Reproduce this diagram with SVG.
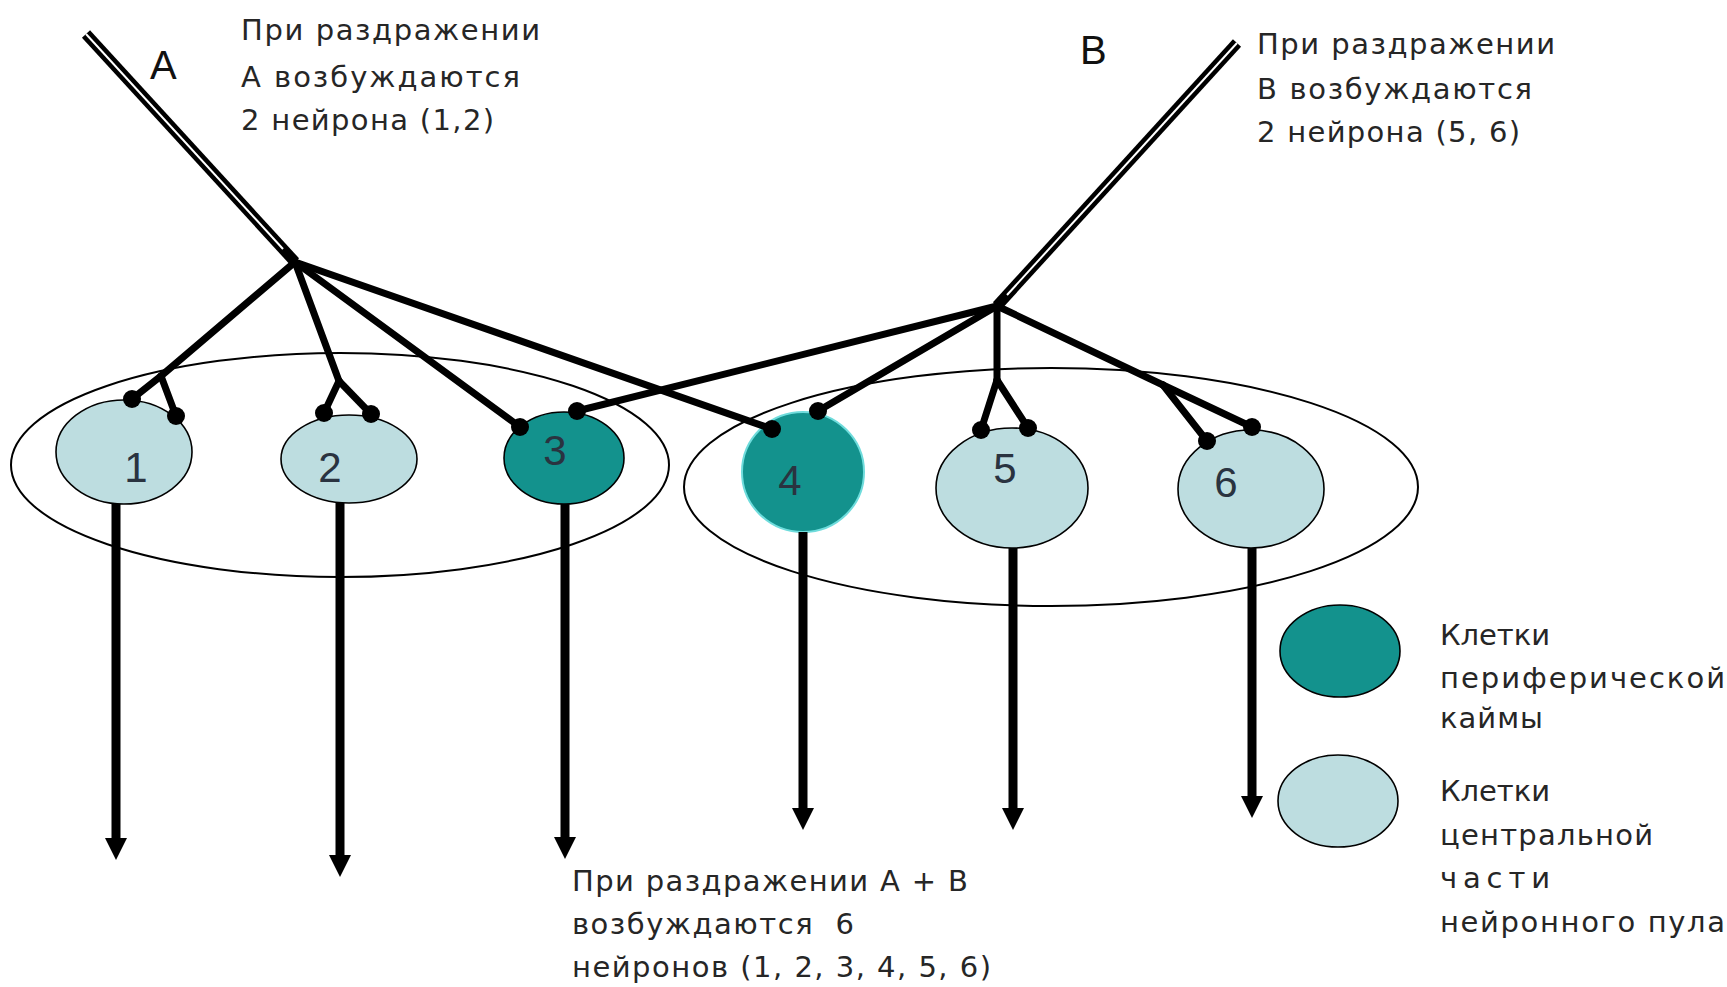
<svg xmlns="http://www.w3.org/2000/svg" width="1727" height="987" viewBox="0 0 1727 987">
  <defs>
    <!-- arrowhead at the end of each efferent axon -->
    <marker id="arrow" viewBox="0 0 22 22" refX="5" refY="11" markerWidth="22" markerHeight="22" markerUnits="userSpaceOnUse" orient="auto">
      <path d="M0,0 L22,11 L0,22 Z" fill="#000"/>
    </marker>
    <!-- synaptic terminal (round ending) -->
    <marker id="syn" viewBox="-10 -10 20 20" refX="0" refY="0" markerWidth="20" markerHeight="20" markerUnits="userSpaceOnUse">
      <circle r="9" fill="#000"/>
    </marker>
  </defs>
  <style>
    .pool{fill:none;stroke:#000;stroke-width:2}
    .central{fill:#bddde0;stroke:#000;stroke-width:1.6}
    .peripheral{fill:#13928d;stroke:#000;stroke-width:1.6}
    .num{font-family:"Liberation Sans",Arial,sans-serif;font-size:42px;fill:#2a3340;text-anchor:middle}
    .txt{font-family:"DejaVu Sans","Liberation Sans",sans-serif;font-size:29px;fill:#262626}
    .lbl{font-family:"Liberation Sans",Arial,sans-serif;font-size:40px;fill:#111}
    .axon{stroke:#000;stroke-width:9;fill:none;marker-end:url(#arrow)}
    .branch{stroke:#000;stroke-width:7;fill:none;stroke-linecap:round;stroke-linejoin:round}
    .syn{marker-end:url(#syn)}
    .nerve{stroke:#000;stroke-width:11;fill:none}
    .nerve-core{stroke:#fff;stroke-width:2;fill:none}
  </style>

  <rect width="1727" height="987" fill="#fff"/>

  <!-- neuronal pools -->
  <g id="pool-left"><ellipse class="pool" cx="340" cy="465" rx="329" ry="112"/></g>
  <g id="pool-right"><ellipse class="pool" cx="1051" cy="487" rx="367" ry="119"/></g>

  <!-- neurons -->
  <g id="neuron-1"><ellipse class="central" cx="124" cy="452" rx="68" ry="52"/><text class="num" x="136" y="482">1</text></g>
  <g id="neuron-2"><ellipse class="central" cx="349" cy="459" rx="68" ry="44"/><text class="num" x="330" y="482">2</text></g>
  <g id="neuron-3"><ellipse class="peripheral" cx="564" cy="458" rx="60" ry="46"/><text class="num" x="555" y="465">3</text></g>
  <g id="neuron-4"><ellipse class="peripheral" cx="803" cy="472" rx="61" ry="60" style="stroke:#6fdcdc;stroke-width:2"/><text class="num" x="790" y="495">4</text></g>
  <g id="neuron-5"><ellipse class="central" cx="1012" cy="488" rx="76" ry="60"/><text class="num" x="1005" y="483">5</text></g>
  <g id="neuron-6"><ellipse class="central" cx="1251" cy="489" rx="73" ry="59"/><text class="num" x="1226" y="497">6</text></g>

  <!-- connectors: afferent fibres, collaterals, efferent axons -->
  <g id="connectors">
    <!-- afferent fibre A -->
    <path class="nerve" d="M86,34 L295,262"/>
    <path class="nerve-core" d="M86,34 L283,249"/>
    <!-- afferent fibre B -->
    <path class="nerve" d="M1237,43 L997,306"/>
    <path class="nerve-core" d="M1237,43 L1007,295"/>

    <!-- collaterals of A -->
    <path class="branch" d="M295,262 L161,376"/>
    <path class="branch syn" d="M161,376 L132,399"/>
    <path class="branch syn" d="M161,376 L176,416"/>
    <path class="branch" d="M295,262 L339,381"/>
    <path class="branch syn" d="M339,381 L324,413"/>
    <path class="branch syn" d="M339,381 L371,414"/>
    <path class="branch syn" d="M295,262 L520,427"/>
    <path class="branch syn" d="M295,262 L772,429"/>

    <!-- collaterals of B -->
    <path class="branch syn" d="M997,306 L577,411"/>
    <path class="branch syn" d="M997,306 L818,411"/>
    <path class="branch" d="M997,306 L997,380"/>
    <path class="branch syn" d="M997,380 L981,430"/>
    <path class="branch syn" d="M997,380 L1028,428"/>
    <path class="branch" d="M997,306 L1163,385"/>
    <path class="branch syn" d="M1163,385 L1207,441"/>
    <path class="branch syn" d="M1163,385 L1252,427"/>

    <!-- efferent axons -->
    <path class="axon" d="M116,504 V843"/>
    <path class="axon" d="M340,503 V860"/>
    <path class="axon" d="M565,504 V842"/>
    <path class="axon" d="M803,532 V813"/>
    <path class="axon" d="M1013,548 V813"/>
    <path class="axon" d="M1252,548 V801"/>
  </g>

  <!-- stimulus labels -->
  <g id="label-A"><text class="lbl" x="150" y="79">A</text></g>
  <g id="label-B"><text class="lbl" x="1080" y="64">B</text></g>

  <g id="note-A">
    <text class="txt" x="241" y="40" textLength="299" lengthAdjust="spacing">При раздражении</text>
    <text class="txt" x="241" y="87" textLength="279" lengthAdjust="spacing">А возбуждаются</text>
    <text class="txt" x="241" y="130" textLength="253" lengthAdjust="spacing">2 нейрона (1,2)</text>
  </g>
  <g id="note-B">
    <text class="txt" x="1257" y="54" textLength="298" lengthAdjust="spacing">При раздражении</text>
    <text class="txt" x="1257" y="99" textLength="275" lengthAdjust="spacing">В возбуждаются</text>
    <text class="txt" x="1257" y="142" textLength="263" lengthAdjust="spacing">2 нейрона (5, 6)</text>
  </g>
  <g id="note-AB">
    <text class="txt" x="572" y="891" textLength="396" lengthAdjust="spacing">При раздражении А + В</text>
    <text class="txt" x="572" y="934" textLength="282" lengthAdjust="spacing" xml:space="preserve">возбуждаются  6</text>
    <text class="txt" x="572" y="977" textLength="419" lengthAdjust="spacing">нейронов (1, 2, 3, 4, 5, 6)</text>
  </g>

  <!-- legend -->
  <g id="legend-peripheral">
    <ellipse class="peripheral" cx="1340" cy="651" rx="60" ry="46"/>
    <text class="txt" x="1440" y="645" textLength="110" lengthAdjust="spacing">Клетки</text>
    <text class="txt" x="1440" y="688" textLength="285" lengthAdjust="spacing">периферической</text>
    <text class="txt" x="1440" y="728" textLength="103" lengthAdjust="spacing">каймы</text>
  </g>
  <g id="legend-central">
    <ellipse class="central" cx="1338" cy="801" rx="60" ry="46"/>
    <text class="txt" x="1440" y="801" textLength="110" lengthAdjust="spacing">Клетки</text>
    <text class="txt" x="1440" y="845" textLength="213" lengthAdjust="spacing">центральной</text>
    <text class="txt" x="1440" y="888" textLength="110" lengthAdjust="spacing">части</text>
    <text class="txt" x="1440" y="932" textLength="285" lengthAdjust="spacing">нейронного пула</text>
  </g>
</svg>
